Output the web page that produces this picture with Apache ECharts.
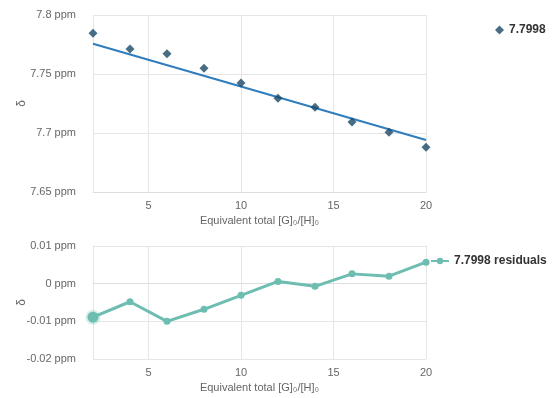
<!DOCTYPE html>
<html>
<head>
<meta charset="utf-8">
<script src="https://cdn.jsdelivr.net/npm/echarts@6/dist/echarts.min.js"></script>
<style>
  html, body { margin: 0; padding: 0; background: #fff; }
  #chart { width: 552px; height: 398px; }
</style>
</head>
<body>
<div id="chart"></div>
<script>
// Titration: equivalents of guest added vs. observed chemical shift
const equivalents = [2, 4, 6, 8, 10, 12, 14, 16, 18, 20];
const shiftObserved = [7.7845, 7.7712, 7.7672, 7.7548, 7.7424, 7.7294, 7.7218, 7.7093, 7.7006, 7.6879];
// Fitted curve endpoints
const fitX = [2, 20];
const fitY = [7.7757, 7.6941];
// Residuals of the fit (ppm)
const residuals = [-0.0089, -0.0048, -0.0100, -0.0068, -0.0031, 0.0006, -0.0007, 0.0026, 0.0020, 0.0057];

const seriesName = '7.7998';
const residualName = '7.7998 residuals';
const xAxisName = 'Equivalent total [G]\u2080/[H]\u2080';
const yAxisName = '\u03B4';

const FONT = 'Liberation Sans, Arial, sans-serif';
const gridColor = '#e6e6e6';
const labelColor = '#666';

const scatterData = equivalents.map((x, i) => [x, shiftObserved[i]]);
const fitData = fitX.map((x, i) => [x, fitY[i]]);
const residualData = equivalents.map((x, i) => {
  const item = { value: [x, residuals[i]] };
  if (i === 0) {
    item.symbolSize = 11;
    item.itemStyle = { borderColor: 'rgba(109,189,176,0.28)', borderWidth: 4 };
  }
  return item;
});

function ppm(v) {
  return (+v.toFixed(4)) + ' ppm';
}

function xAxisCfg(gridIndex) {
  return {
    type: 'value', gridIndex, min: 2, max: 20,
    minInterval: 5, maxInterval: 5, splitNumber: 4,
    name: xAxisName, nameLocation: 'middle', nameGap: 23, nameMoveOverlap: false,
    nameTextStyle: { color: labelColor, fontSize: 11, fontFamily: FONT },
    axisLine: { show: true, lineStyle: { color: '#dcdde3' } },
    axisTick: { show: false },
    axisLabel: { color: labelColor, fontSize: 11, fontFamily: FONT, margin: 8, showMinLabel: false },
    splitLine: { show: true, lineStyle: { color: gridColor } }
  };
}

function yAxisCfg(gridIndex, min, max, interval) {
  return {
    type: 'value', gridIndex, min, max, interval,
    name: yAxisName, nameLocation: 'middle', nameGap: 65, nameMoveOverlap: false,
    nameTextStyle: { color: labelColor, fontSize: 12, fontFamily: FONT },
    axisLine: { show: false },
    axisTick: { show: false },
    axisLabel: { color: labelColor, fontSize: 11, fontFamily: FONT, margin: 17, formatter: ppm },
    splitLine: { show: true, lineStyle: { color: gridColor } }
  };
}

const chart = echarts.init(document.getElementById('chart'), null, { renderer: 'canvas' });
chart.setOption({
  animation: false,
  backgroundColor: '#fff',
  grid: [
    { left: 93, right: 126, top: 15, height: 177, outerBoundsMode: 'none', containLabel: false },
    { left: 93, right: 126, top: 246, height: 113, outerBoundsMode: 'none', containLabel: false }
  ],
  legend: [
    {
      data: [{ name: seriesName, icon: 'diamond' }],
      left: 490, top: 19, orient: 'vertical',
      itemWidth: 9, itemHeight: 9, itemGap: 6, selectedMode: false,
      textStyle: { color: '#333', fontSize: 12, fontWeight: 'bold', fontFamily: FONT }
    },
    {
      data: [residualName],
      left: 425, top: 250, orient: 'vertical',
      itemWidth: 18, itemHeight: 8, selectedMode: false,
      textStyle: { color: '#333', fontSize: 12, fontWeight: 'bold', fontFamily: FONT }
    }
  ],
  xAxis: [xAxisCfg(0), xAxisCfg(1)],
  yAxis: [yAxisCfg(0, 7.65, 7.8, 0.05), yAxisCfg(1, -0.02, 0.01, 0.01)],
  series: [
    {
      name: 'fit', type: 'line', xAxisIndex: 0, yAxisIndex: 0,
      data: fitData, showSymbol: false, symbol: 'none',
      lineStyle: { color: '#2f7dbd', width: 2 }, z: 2
    },
    {
      name: seriesName, type: 'scatter', xAxisIndex: 0, yAxisIndex: 0,
      data: scatterData, symbol: 'diamond', symbolSize: 9,
      itemStyle: { color: '#1a4866' }, z: 3
    },
    {
      name: residualName, type: 'line', xAxisIndex: 1, yAxisIndex: 1,
      data: residualData, symbol: 'circle', symbolSize: 7, showAllSymbol: true,
      itemStyle: { color: '#6dbdb0' },
      lineStyle: { color: '#6dbdb0', width: 3 }
    }
  ]
});
</script>
</body>
</html>
